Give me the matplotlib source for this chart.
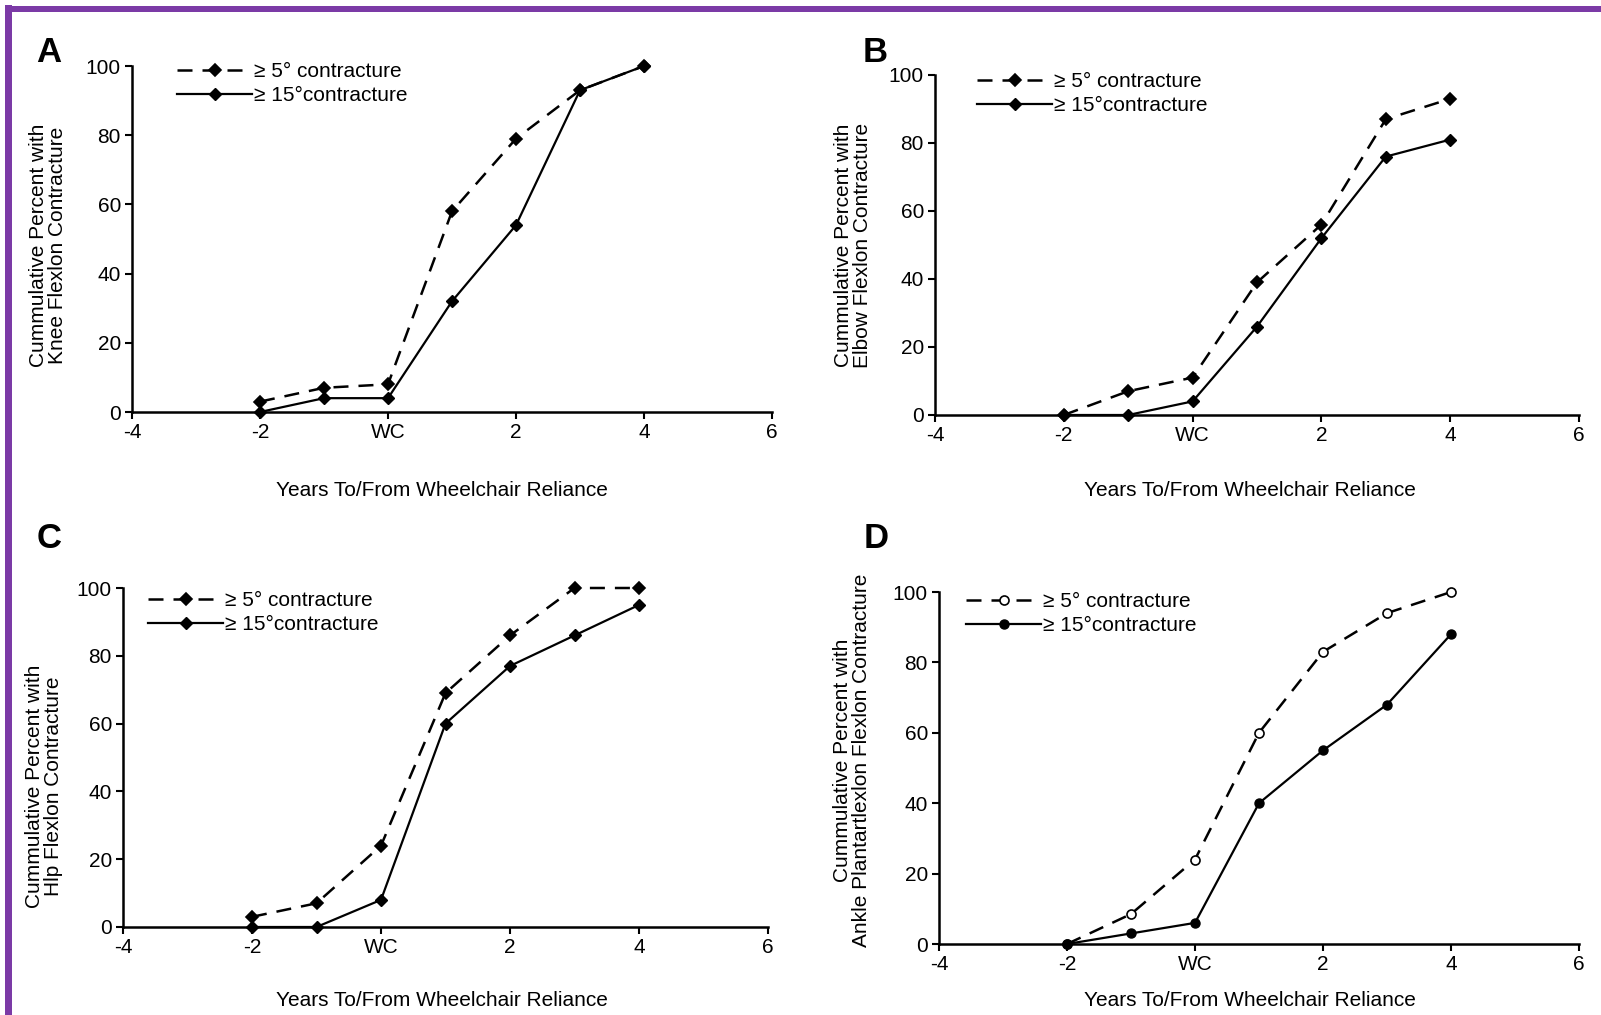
import matplotlib
matplotlib.use("Agg")
import matplotlib.pyplot as plt
from matplotlib.patches import Rectangle

# Years relative to wheelchair reliance (0 = "WC")
years = [-2, -1, 0, 1, 2, 3, 4]
xtick_values = [-4, -2, 0, 2, 4, 6]
xtick_labels = ["-4", "-2", "WC", "2", "4", "6"]
ytick_values = [0, 20, 40, 60, 80, 100]

# Cumulative percent with contracture, >=5 deg and >=15 deg
knee_5 = [3, 7, 8, 58, 79, 93, 100]
knee_15 = [0, 4, 4, 32, 54, 93, 100]
elbow_5 = [0, 7, 11, 39, 56, 87, 93]
elbow_15 = [0, 0, 4, 26, 52, 76, 81]
hip_5 = [3, 7, 24, 69, 86, 100, 100]
hip_15 = [0, 0, 8, 60, 77, 86, 95]
ankle_5 = [0, 8.5, 24, 60, 83, 94, 100]
ankle_15 = [0, 3, 6, 40, 55, 68, 88]

panel_letters = ["A", "B", "C", "D"]
ylabels = [
    "Cummulative Percent with\nKnee Flexlon Contracture",
    "Cummulative Percent with\nElbow Flexlon Contracture",
    "Cummulative Percent with\nHlp Flexlon Contracture",
    "Cummulative Percent with\nAnkle Plantartlexlon Flexlon Contracture",
]
xlabel = "Years To/From Wheelchair Reliance"
legend_5 = "≥ 5° contracture"
legend_15 = "≥ 15°contracture"

W, H = 1601, 1015
NARROW = ["Liberation Sans Narrow", "Liberation Sans", "DejaVu Sans"]
REG = ["Liberation Sans", "DejaVu Sans"]

fig = plt.figure(figsize=(W / 100, H / 100), dpi=100)
fig.patch.set_facecolor("white")

# purple frame on top and left edges
fig.patches.append(Rectangle((5 / W, 0), 7 / W, 1 - 5 / H, transform=fig.transFigure,
                             facecolor="#7b3aa6", edgecolor="none"))
fig.patches.append(Rectangle((5 / W, 1 - 12 / H), 1 - 5 / W, 6 / H, transform=fig.transFigure,
                             facecolor="#7b3aa6", edgecolor="none"))


def px_box(x0, x1, ytop, ybot):
    return [x0 / W, 1 - ybot / H, (x1 - x0) / W, (ybot - ytop) / H]


panels = [
    dict(box=px_box(132, 772, 66, 412), s5=knee_5, s15=knee_15, m5="D", m15="D", f5="k",
         letter=(49, 53), ylab=(48, 245), xlab=(442, 490), leg=(177, 62)),
    dict(box=px_box(935, 1579, 75, 415), s5=elbow_5, s15=elbow_15, m5="D", m15="D", f5="k",
         letter=(875, 53), ylab=(853, 245), xlab=(1250, 490), leg=(977, 72)),
    dict(box=px_box(123, 768, 588, 927), s5=hip_5, s15=hip_15, m5="D", m15="D", f5="k",
         letter=(49, 539), ylab=(44, 786), xlab=(442, 1001), leg=(148, 591)),
    dict(box=px_box(939, 1579, 592, 944), s5=ankle_5, s15=ankle_15, m5="o", m15="o", f5="white",
         letter=(876, 539), ylab=(852, 760), xlab=(1250, 1001), leg=(966, 592)),
]

for i, p in enumerate(panels):
    ax = fig.add_axes(p["box"])
    ax.plot(years, p["s5"], color="black", linestyle=(0, (6, 4)), linewidth=1.8,
            marker=p["m5"], markersize=6.5, markerfacecolor=p["f5"], markeredgecolor="black",
            markeredgewidth=1.2, clip_on=False, zorder=3, label=legend_5)
    ax.plot(years, p["s15"], color="black", linestyle="-", linewidth=1.6,
            marker=p["m15"], markersize=6.5, markerfacecolor="black", markeredgecolor="black",
            clip_on=False, zorder=3, label=legend_15)

    ax.set_xlim(-4, 6)
    ax.set_ylim(0, 100)
    ax.set_xticks(xtick_values)
    ax.set_xticklabels(xtick_labels)
    ax.set_yticks(ytick_values)
    for sp in ("top", "right"):
        ax.spines[sp].set_visible(False)
    for sp in ("left", "bottom"):
        ax.spines[sp].set_linewidth(1.8)
    ax.tick_params(axis="both", direction="out", length=5, width=1.5, labelsize=15, pad=3)
    for lab in ax.get_xticklabels() + ax.get_yticklabels():
        lab.set_family(NARROW)
    ax.patch.set_alpha(0)

    lx, ly = p["leg"]
    ax.legend(loc="upper left", bbox_to_anchor=(lx / W, 1 - ly / H),
              bbox_transform=fig.transFigure, frameon=False, borderpad=0,
              borderaxespad=0, handlelength=3.6, handletextpad=0.1,
              labelspacing=0.25, prop=dict(family=NARROW, size=15))

    x, y = p["letter"]
    fig.text(x / W, 1 - y / H, panel_letters[i], fontsize=25, fontweight="bold",
             family=REG, ha="center", va="center")
    x, y = p["ylab"]
    fig.text(x / W, 1 - y / H, ylabels[i], rotation=90, fontsize=15, family=REG,
             ha="center", va="center", linespacing=1.0)
    x, y = p["xlab"]
    fig.text(x / W, 1 - y / H, xlabel, fontsize=15, family=NARROW, ha="center", va="center")

fig.savefig("out.png", dpi=100)
